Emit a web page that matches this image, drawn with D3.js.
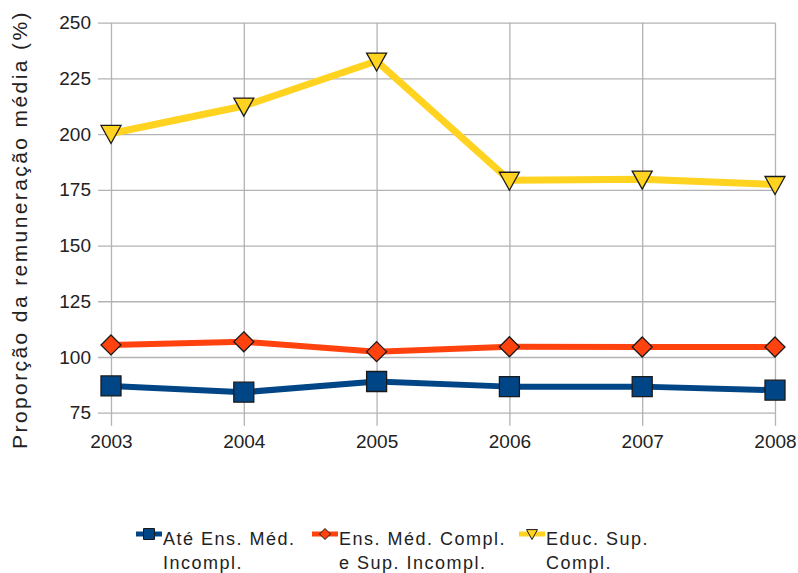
<!DOCTYPE html>
<html>
<head>
<meta charset="utf-8">
<script src="https://cdn.jsdelivr.net/npm/d3@7"></script>
<style>
 body { margin: 0; background: #fff; }
 svg { display: block; font-family: "Liberation Sans", Arial, sans-serif; }
</style>
</head>
<body>
<div id="chart"></div>
<script>
/*************
Data
**************/
var years = ["2003", "2004", "2005", "2006", "2007", "2008"];
var ateMedio = [87, 84.2, 89, 86.7, 86.7, 85.1];
var medioSup = [105.4, 106.8, 102.4, 104.6, 104.5, 104.5];
var supCompl = [200.3, 212.6, 232.8, 179.3, 179.8, 177.4];
var yTicks = [75, 100, 125, 150, 175, 200, 225, 250];
var seriesNames = [
 ["Até Ens. Méd.", "Incompl."],
 ["Ens. Méd. Compl.", "e Sup. Incompl."],
 ["Educ. Sup.", "Compl."]
];
var yTitle = "Proporção da remuneração média (%)";

/*************
Params
**************/
var W = 798, H = 573;
var plotL = 111, plotR = 775, plotT = 22.7, plotB = 412.7;
var tickOut = 13;
var gridColor = "#b3b3b3";

var series = [
 { name: seriesNames[0], values: ateMedio, color: "#004586", marker: "square", width: 6 },
 { name: seriesNames[1], values: medioSup, color: "#ff420e", marker: "diamond", width: 6 },
 { name: seriesNames[2], values: supCompl, color: "#ffd320", marker: "triangle", width: 7 }
];

const x = d3.scalePoint().domain(years).range([plotL, plotR]).padding(0);
const y = d3.scaleLinear().domain([75, 250]).range([plotB, plotT]);

const svg = d3.select("#chart")
 .append("svg")
 .attr("width", W)
 .attr("height", H);

// grid + y labels
const yAxis = svg.append("g")
 .attr("transform", "translate(" + plotR + ",0)")
 .call(d3.axisLeft(y).tickValues(yTicks).tickSize(plotR - plotL + tickOut).tickPadding(7));
yAxis.select(".domain").remove();
yAxis.selectAll("line").attr("stroke", gridColor).attr("stroke-width", 1.3);
yAxis.selectAll("text")
 .attr("font-size", 19).attr("fill", "#222")
 .attr("font-family", "Liberation Sans, Arial, sans-serif");

const xAxis = svg.append("g")
 .attr("transform", "translate(0," + plotT + ")")
 .call(d3.axisBottom(x).tickSize(plotB - plotT + tickOut).tickPadding(9));
xAxis.select(".domain").remove();
xAxis.selectAll("line").attr("stroke", gridColor).attr("stroke-width", 1.3);
xAxis.selectAll("text")
 .attr("font-size", 19).attr("fill", "#222")
 .attr("font-family", "Liberation Sans, Arial, sans-serif");

// y title
svg.append("text")
 .attr("transform", "translate(27," + 229.5 + ") rotate(-90)")
 .attr("text-anchor", "middle")
 .attr("font-size", 21)
 .attr("letter-spacing", 2.4)
 .attr("fill", "#222")
 .text(yTitle);

// markers
function markerPath(type, s) {
 if (type === "square") return "M" + (-s) + "," + (-s) + "H" + s + "V" + s + "H" + (-s) + "Z";
 if (type === "diamond") return "M0," + (-s) + "L" + s + ",0L0," + s + "L" + (-s) + ",0Z";
 return "M" + (-s) + "," + (-s * 0.8) + "H" + s + "L0," + s + "Z";
}
var markerSize = { square: 10, diamond: 10, triangle: 10 };

const line = d3.line().x((d, i) => x(years[i])).y(d => y(d));

const g = svg.selectAll("g.series")
 .data(series)
 .enter().append("g")
 .attr("class", "series");

g.append("path")
 .attr("d", d => line(d.values))
 .attr("fill", "none")
 .attr("stroke", d => d.color)
 .attr("stroke-width", d => d.width)
 .attr("stroke-linejoin", "round");

g.selectAll("path.mk")
 .data(d => d.values.map((v, i) => ({ v: v, i: i, s: d })))
 .enter().append("path")
 .attr("class", "mk")
 .attr("transform", d => "translate(" + x(years[d.i]) + "," + y(d.v) + ")")
 .attr("d", d => markerPath(d.s.marker, markerSize[d.s.marker]))
 .attr("fill", d => d.s.color)
 .attr("stroke", "#1a1a1a")
 .attr("stroke-width", 1.3);

// legend
var legendX = [136, 312, 519];
const lg = svg.selectAll("g.legend")
 .data(series)
 .enter().append("g")
 .attr("class", "legend")
 .attr("transform", (d, i) => "translate(" + legendX[i] + ",534)");

lg.append("line")
 .attr("x1", 0).attr("x2", 26)
 .attr("stroke", d => d.color)
 .attr("stroke-width", 5);
lg.append("path")
 .attr("transform", "translate(13,0)")
 .attr("d", d => markerPath(d.marker, 5.5))
 .attr("fill", d => d.color)
 .attr("stroke", "#1a1a1a")
 .attr("stroke-width", 1);
lg.append("text")
 .attr("x", 27)
 .attr("y", 11)
 .attr("font-size", 18)
 .attr("letter-spacing", 1.5)
 .attr("fill", "#222")
 .selectAll("tspan")
 .data(d => d.name)
 .enter().append("tspan")
 .attr("x", 27)
 .attr("dy", (d, i) => i ? 24 : 0)
 .text(d => d);
</script>
</body>
</html>
